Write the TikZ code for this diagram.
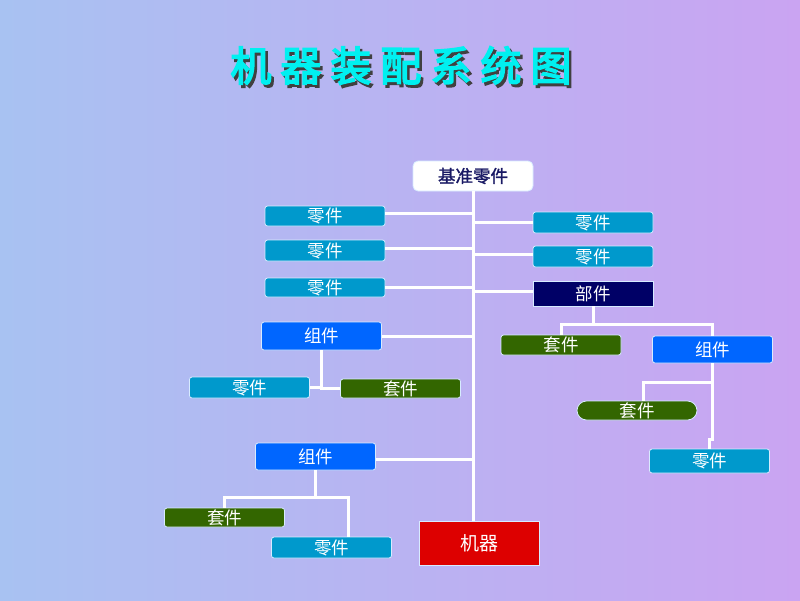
\documentclass[tikz,border=0pt]{standalone}
\usepackage{fontspec}
\usetikzlibrary{calc}
\newfontfamily\cjk{Noto Sans CJK SC}
\newfontfamily\cjkb{Noto Sans CJK SC}[FakeBold=1.5]
\newfontfamily\cjkt{Noto Sans CJK SC}[FakeBold=4,LetterSpace=22]
\definecolor{bgl}{RGB}{168,194,242}
\definecolor{bgr}{RGB}{202,164,242}
\definecolor{partc}{RGB}{0,153,204}
\definecolor{groupc}{RGB}{0,102,255}
\definecolor{setc}{RGB}{51,102,0}
\definecolor{unitc}{RGB}{0,0,102}
\definecolor{machc}{RGB}{221,0,0}
\definecolor{titlec}{RGB}{0,240,240}
\definecolor{basetxt}{RGB}{25,25,100}
\definecolor{edgec}{RGB}{215,235,255}
\newcommand{\shadowtitle}[1]{\makebox[0pt][l]{\hspace{2.5pt}\raisebox{-3pt}{\textcolor{black!75}{#1}}}\textcolor{titlec}{#1}}
\begin{document}
\begin{tikzpicture}[x=1pt,y=-1pt,
  box/.style={draw=edgec,line width=0.8pt,rounded corners=2.5pt,inner sep=0pt,
    minimum width=120pt,minimum height=20pt,text=white,font=\cjk\fontsize{17.5}{17.5}\selectfont},
  partbox/.style={box,fill=partc},
  groupbox/.style={box,fill=groupc,minimum height=28pt},
  setbox/.style={box,fill=setc,minimum height=19pt},
  link/.style={draw=white,line width=3pt}]
\shade[left color=bgl,right color=bgr] (0,0) rectangle (800,600);
\useasboundingbox (0,0) rectangle (800,600);
% title
\node (title) [font=\cjkt\fontsize{41}{41}\selectfont] at (401,67) {\shadowtitle{机器装配系统图}};
% nodes
\node (base) [box,fill=white,rounded corners=5pt,minimum height=30pt,text=basetxt,font=\cjkb\fontsize{17.5}{17.5}\selectfont] at (473,176) {基准零件};
\node (l1) [partbox] at (325,216) {零件};
\node (l2) [partbox,minimum height=21pt] at (325,250.5) {零件};
\node (l3) [partbox,minimum height=19pt] at (325,287.5) {零件};
\node (r1) [partbox,minimum height=21pt] at (593,222.5) {零件};
\node (r2) [partbox,minimum height=21pt] at (593,256.5) {零件};
\node (unit) [box,fill=unitc,rounded corners=0pt,minimum height=25pt] at (593,293.5) {部件};
\node (g1) [groupbox] at (321.5,336) {组件};
\node (g1p) [partbox,minimum height=21pt] at (249.5,387.5) {零件};
\node (g1s) [setbox] at (400.5,388.5) {套件};
\node (us) [setbox,minimum height=20pt] at (561,345) {套件};
\node (g2) [groupbox,minimum height=27pt] at (712.5,349.5) {组件};
\node (g2s) [setbox,rounded corners=9.5pt] at (637,410.5) {套件};
\node (g2p) [partbox,minimum height=24pt] at (709.5,461) {零件};
\node (g3) [groupbox,minimum height=27pt] at (315.5,456.5) {组件};
\node (g3s) [setbox] at (224.5,517.5) {套件};
\node (g3p) [partbox,minimum height=21pt] at (331.5,547.5) {零件};
\node (mach) [box,fill=machc,rounded corners=0pt,minimum height=44pt,font=\cjk\fontsize{19}{19}\selectfont] at (479.5,543) {机器};
% connectors
\draw[link] (base.south) -- (mach.north -| base.south);
\draw[link] ([yshift=3pt]l1.east) -- ([yshift=3pt]l1.east -| base.south);
\draw[link] ([yshift=2pt]l2.east) -- ([yshift=2pt]l2.east -| base.south);
\draw[link] (l3.east) -- (l3.east -| base.south);
\draw[link] (r1.west) -- (r1.west -| base.south);
\draw[link] ([yshift=2pt]r2.west) -- ([yshift=2pt]r2.west -| base.south);
\draw[link] ([yshift=2pt]unit.west) -- ([yshift=2pt]unit.west -| base.south);
\draw[link] (g1.east) -- (g1.east -| base.south);
\draw[link] ([yshift=-3pt]g3.east) -- ([yshift=-3pt]g3.east -| base.south);
% group 1
\draw[link] (g1.south) |- (g1s.west);
\draw[link] (g1p.east) -- (g1p.east -| g1.south);
% unit
\draw[link] (unit.south) -- ++(0,19);
\draw[link] (us.north) -- ++(0,-10) -| (g2.north);
% group 2
\draw[link] (g2.south) -- ++(0,76) -| (g2p.north);
\coordinate (j2) at ($(g2.south)+(0,19)$);
\draw[link] ([xshift=6pt]g2s.north) |- (j2);
% group 3
\draw[link] (g3.south) -- ++(0,27) coordinate (j3);
\draw[link] (g3s.north) |- (j3) -| ([xshift=16.5pt]g3p.north);
\end{tikzpicture}
\end{document}
